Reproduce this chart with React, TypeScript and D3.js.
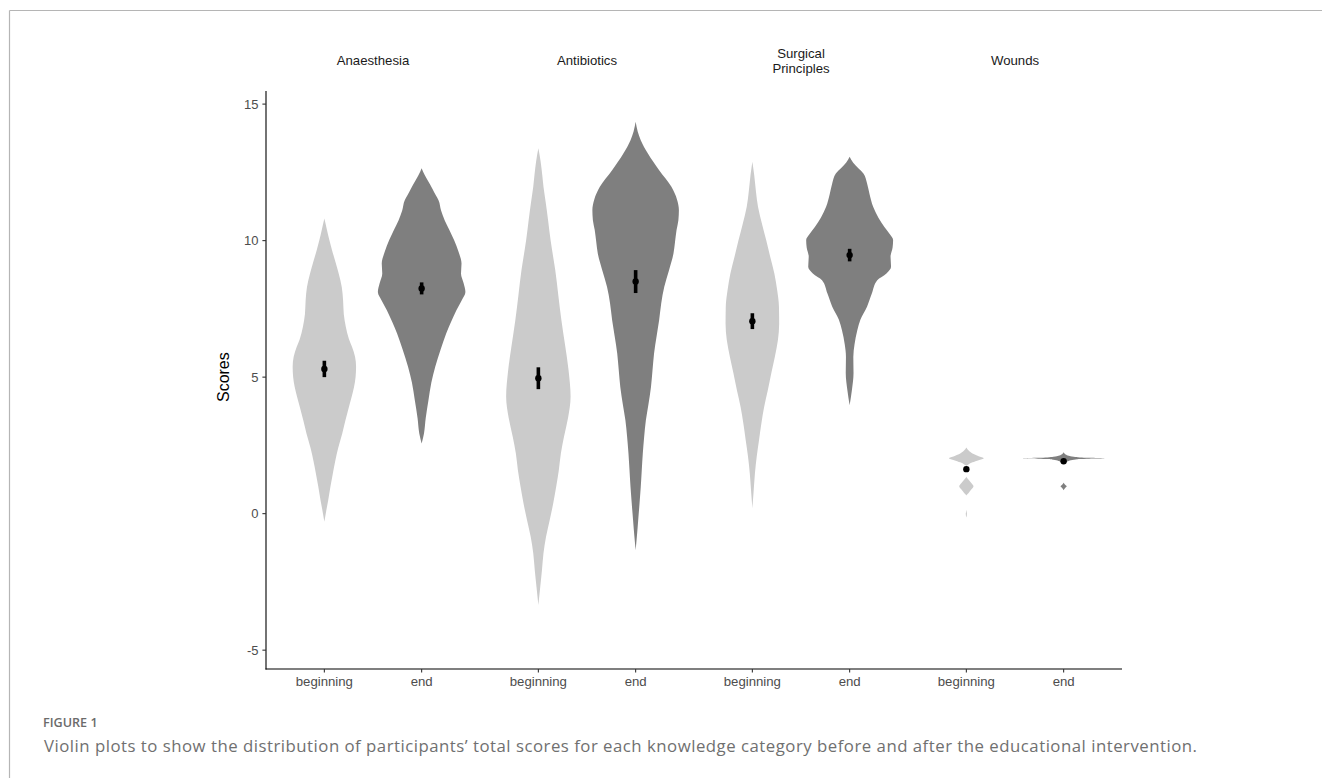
import React from "react";
import * as d3 from "d3";

const categories = ["Anaesthesia", "Antibiotics", "Surgical Principles", "Wounds"];
const stripLines = [["Anaesthesia"], ["Antibiotics"], ["Surgical", "Principles"], ["Wounds"]];
const times = ["beginning", "end"];
const yTicks = [-5, 0, 5, 10, 15];

// [score, relative density (half-width)]
const densAnaBeg: [number, number][] = [
  [10.81, 0], [10.4, 2.5], [10.0, 5], [9.65, 7.5], [9.2, 11], [8.8, 14], [8.3, 17], [7.82, 18.3], [7.3, 19],
  [6.84, 21], [6.4, 24], [6.11, 27], [5.75, 30], [5.38, 31], [5.0, 30.5], [4.64, 29], [4.25, 26.5], [3.91, 24],
  [3.4, 20.5], [2.94, 17.5], [2.4, 13.5], [1.9, 10.5], [1.47, 8.3], [1.0, 6], [0.5, 3.8], [0.1, 1.8], [-0.3, 0],
];
const densAnaEnd: [number, number][] = [
  [12.65, 0], [12.4, 3], [12.2, 6], [11.9, 10.5], [11.65, 14], [11.48, 16.5], [11.1, 19], [10.75, 22.5], [10.4, 27],
  [10.02, 31.7], [9.6, 36], [9.16, 39], [8.8, 38.5], [8.45, 41], [8.12, 42.8], [7.8, 39], [7.45, 34], [7.0, 28.5],
  [6.6, 24], [6.0, 18.5], [5.38, 13.3], [4.8, 9.5], [4.16, 6.7], [3.5, 4], [2.94, 2.3], [2.57, 0],
];
const densAntBeg: [number, number][] = [
  [13.38, 0], [12.9, 2.2], [12.4, 3.8], [11.97, 5], [11.4, 7.2], [10.75, 9.5], [10.0, 12], [9.4, 14.5], [8.92, 16.5],
  [8.0, 19.5], [7.09, 22.5], [6.2, 26], [5.26, 29.5], [4.28, 31.5], [3.5, 29], [2.81, 25], [2.2, 22], [1.59, 20],
  [1.0, 17.5], [0.37, 14.5], [-0.25, 11], [-0.85, 7.5], [-1.45, 5], [-2.07, 3.5], [-2.7, 1.8], [-3.35, 0],
];
const densAntEnd: [number, number][] = [
  [14.35, 0], [14.0, 2], [13.68, 5], [13.19, 12], [12.58, 23], [11.97, 35], [11.5, 40.5], [11.12, 42.3], [10.75, 41.8],
  [10.39, 40], [9.95, 38.5], [9.53, 37], [8.9, 32.5], [8.31, 28], [7.7, 25], [7.09, 23], [6.5, 20.5], [5.87, 18],
  [5.25, 16.5], [4.64, 15], [4.0, 12.5], [3.42, 10], [2.8, 8.3], [2.2, 7], [1.6, 6], [0.98, 5], [0.37, 3.8],
  [-0.24, 2.5], [-0.8, 1.3], [-1.34, 0],
];
const densSurBeg: [number, number][] = [
  [12.89, 0], [12.4, 1.8], [11.8, 3.5], [11.24, 5.5], [10.6, 9.5], [10.02, 13.5], [9.4, 17.5], [8.8, 21.5], [8.2, 24.2],
  [7.58, 26], [6.95, 26.2], [6.36, 25], [5.75, 22], [5.14, 18.5], [4.5, 15], [3.91, 11.5], [3.3, 8.8], [2.69, 6.5],
  [2.1, 4.3], [1.47, 2.5], [0.8, 1.2], [0.2, 0],
];
const densSurEnd: [number, number][] = [
  [13.07, 0], [12.85, 3.5], [12.65, 8.5], [12.46, 13.5], [12.1, 17], [11.7, 19.5], [11.24, 23], [10.85, 28], [10.5, 34],
  [10.22, 39.5], [10.02, 42.5], [9.75, 42], [9.41, 40], [9.04, 40.5], [8.8, 36], [8.55, 27], [8.06, 21.7], [7.58, 17],
  [7.1, 10.5], [6.72, 7.5], [6.2, 4.8], [5.74, 3.6], [5.14, 3.8], [4.52, 2.2], [3.97, 0],
];
const densWouBeg: [number, number][] = [
  [2.42, 0], [2.3, 2.5], [2.2, 6], [2.1, 12], [2.03, 17], [1.96, 12], [1.88, 6], [1.8, 2], [1.74, 0],
  [1.36, 0], [1.25, 2], [1.12, 4.8], [1.0, 7], [0.88, 4.8], [0.75, 2], [0.66, 0],
  [0.14, 0], [0.0, 0.6], [-0.14, 0],
];
const densWouEnd: [number, number][] = [
  [2.25, 0], [2.17, 2], [2.12, 5], [2.08, 10], [2.06, 16], [2.045, 25], [2.03, 40], [2.015, 25], [2.0, 16],
  [1.97, 10], [1.93, 5], [1.88, 2], [1.82, 0],
  [1.14, 0], [1.06, 1.5], [1.0, 3], [0.94, 1.5], [0.86, 0],
];

const densities = [
  [densAnaBeg, densAnaEnd],
  [densAntBeg, densAntEnd],
  [densSurBeg, densSurEnd],
  [densWouBeg, densWouEnd],
];
const means = [[5.3, 8.25], [4.96, 8.5], [7.05, 9.47], [1.63, 1.92]];
const halfCI = [[0.3, 0.22], [0.4, 0.42], [0.29, 0.23], [0.03, 0.03]];
const fills = ["#cbcbcb", "#7f7f7f"];

const figureLabel = "FIGURE 1";
const captionText =
  "Violin plots to show the distribution of participants’ total scores for each knowledge category before and after the educational intervention.";

const W = 1322, H = 778;
const plotLeft = 266, plotRight = 1122, plotTop = 91, plotBottom = 669;

export default function App() {
  const facet = d3.scaleBand<string>().domain(categories).range([plotLeft, plotRight]).paddingInner(0).paddingOuter(0);
  const fw = facet.bandwidth();
  const xInner = d3.scalePoint<string>().domain(times).range([0, fw]).padding(0.6);
  const step = xInner.step();
  const y = d3.scaleLinear().domain([-5.69, 15.48]).range([plotBottom, plotTop]);
  const allMax = d3.max(densities.flat().flatMap((arr) => arr.map((d) => d[1]))) as number;
  const wScale = d3.scaleLinear().domain([0, allMax]).range([0, 0.45 * step]);
  const axisFont = "'Liberation Sans', Arial, sans-serif";
  const capFont = "'Open Sans', Lato, sans-serif";

  return (
    <svg width={W} height={H} style={{ position: "absolute", left: 0, top: 0, background: "#fff" }}>
      <rect x={0} y={0} width={W} height={H} fill="#fff" />
      {/* frame */}
      <line x1={9.5} y1={10.5} x2={W} y2={10.5} stroke="#b5b5b5" strokeWidth={1.2} />
      <line x1={9.5} y1={10.5} x2={9.5} y2={H} stroke="#b5b5b5" strokeWidth={1.2} />

      {/* strip titles */}
      {categories.map((c, i) => {
        const cx = (facet(c) as number) + fw / 2;
        const lines = stripLines[i];
        const baseY = lines.length === 1 ? 65 : 58;
        return (
          <text key={c} x={cx} y={baseY} textAnchor="middle" fontFamily={axisFont} fontSize={13.2} fill="#1a1a1a">
            {lines.map((l, j) => (
              <tspan key={j} x={cx} dy={j === 0 ? 0 : 14.5}>{l}</tspan>
            ))}
          </text>
        );
      })}

      {/* violins */}
      {categories.map((c, i) =>
        times.map((t, j) => {
          const cx = (facet(c) as number) + (xInner(t) as number);
          const area = d3
            .area<[number, number]>()
            .y((d) => y(d[0]))
            .x0((d) => cx - wScale(d[1]))
            .x1((d) => cx + wScale(d[1]))
            .curve(d3.curveMonotoneY);
          return <path key={c + t} d={area(densities[i][j]) || ""} fill={fills[j]} stroke="none" />;
        })
      )}

      {/* mean +/- se */}
      {categories.map((c, i) =>
        times.map((t, j) => {
          const cx = (facet(c) as number) + (xInner(t) as number);
          const m = means[i][j];
          const e = halfCI[i][j];
          return (
            <g key={"m" + c + t}>
              <line x1={cx} x2={cx} y1={y(m - e)} y2={y(m + e)} stroke="#000" strokeWidth={3.6} />
              <circle cx={cx} cy={y(m)} r={3.2} fill="#000" />
            </g>
          );
        })
      )}

      {/* y axis */}
      <line x1={plotLeft} x2={plotLeft} y1={plotTop} y2={plotBottom + 0.5} stroke="#000" strokeWidth={1.1} />
      {yTicks.map((v) => (
        <g key={v}>
          <line x1={plotLeft - 3.6} x2={plotLeft} y1={y(v)} y2={y(v)} stroke="#333" strokeWidth={1.1} />
          <text x={plotLeft - 7.5} y={y(v) + 4.6} textAnchor="end" fontFamily={axisFont} fontSize={13} fill="#4d4d4d">
            {v}
          </text>
        </g>
      ))}
      <text
        transform={`translate(${229},${y(5)}) rotate(-90)`}
        textAnchor="middle"
        fontFamily={axisFont}
        fontSize={16}
        fill="#000"
      >
        Scores
      </text>

      {/* x axis */}
      <line x1={plotLeft - 0.5} x2={plotRight} y1={plotBottom} y2={plotBottom} stroke="#000" strokeWidth={1.1} />
      {categories.map((c) =>
        times.map((t) => {
          const cx = (facet(c) as number) + (xInner(t) as number);
          return (
            <g key={"x" + c + t}>
              <line x1={cx} x2={cx} y1={plotBottom} y2={plotBottom + 3.6} stroke="#333" strokeWidth={1.1} />
              <text x={cx} y={plotBottom + 17} textAnchor="middle" fontFamily={axisFont} fontSize={13.2} fill="#4d4d4d">
                {t}
              </text>
            </g>
          );
        })
      )}

      {/* caption */}
      <text x={43} y={727} fontFamily={capFont} fontSize={12.6} fontWeight={600} fill="#6b6b6b">
        {figureLabel}
      </text>
      <text x={44} y={752} fontFamily={capFont} fontSize={16.8} fill="#707070" textLength={1153} lengthAdjust="spacing">
        {captionText}
      </text>
    </svg>
  );
}
